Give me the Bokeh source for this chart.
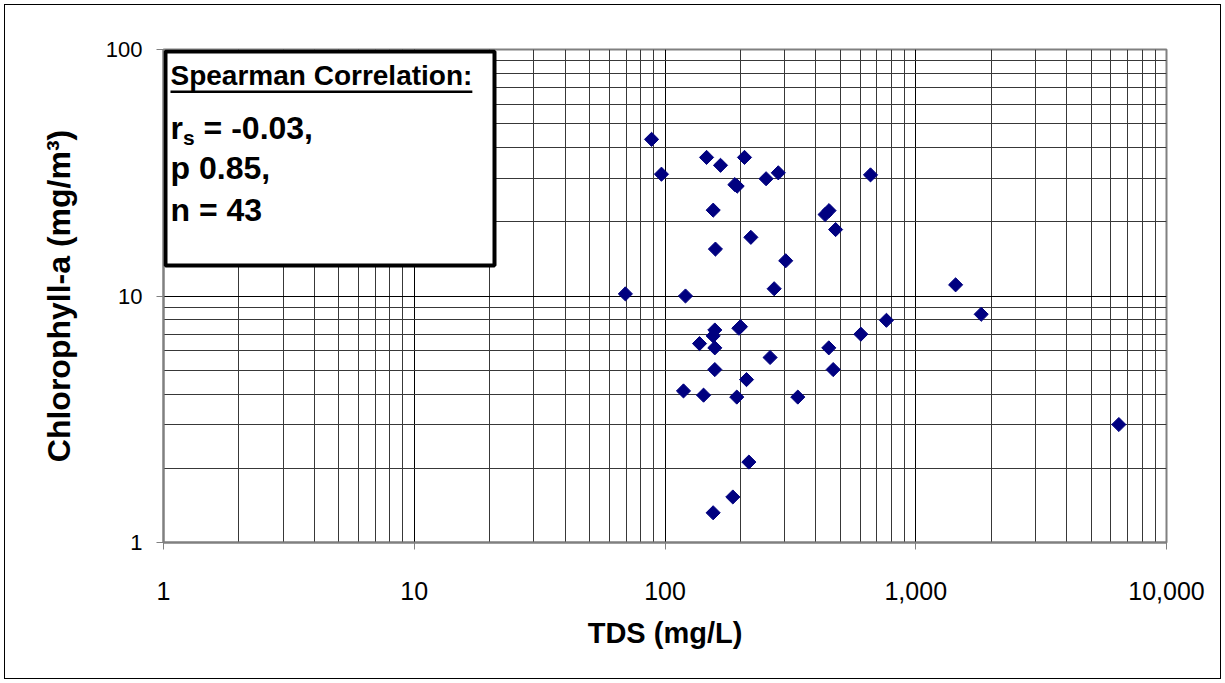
import math
from bokeh.plotting import figure
from bokeh.models import FixedTicker, NumeralTickFormatter, Label, BoxAnnotation
from bokeh.embed import file_html
from bokeh.resources import INLINE

# ---- data ----
tds = [69.5, 88.4, 96.8, 120.7, 146.5, 166.5, 207.5, 155.7, 158.9, 190, 194,
       253, 283, 220, 303, 272.5, 435, 451, 479, 660, 764, 604,
       158, 155.6, 137.3, 158, 200, 197, 262.5, 158, 211.4, 118.5, 142.5,
       193.3, 338.5, 450, 468.5, 216, 186.4, 155.6, 1442, 1824, 6456]
chla = [10.2, 43.2, 31.2, 10.0, 36.5, 33.9, 36.5, 22.3, 15.5, 28.3, 27.9,
        29.9, 31.6, 17.3, 13.9, 10.7, 21.4, 22.2, 18.6, 31.0, 7.97, 7.0,
        7.28, 6.89, 6.41, 6.16, 7.51, 7.40, 5.63, 5.03, 4.58, 4.12, 3.96,
        3.89, 3.89, 6.16, 5.03, 2.12, 1.53, 1.32, 11.1, 8.43, 3.01]

x_major = [1, 10, 100, 1000, 10000]
y_major = [1, 10, 100]
x_title = "TDS (mg/L)"
y_title = "Chlorophyll-a (mg/m\u00b3)"
stats_title = "Spearman Correlation:"
stats_lines = ["p 0.85,", "n = 43"]

FONT = "Liberation Sans"
W, H = 1225, 683
FL, FR, FT, FB = 163, 1166, 49, 542   # frame edges in pixels

def minors(majors):
    out = []
    for m in majors[:-1]:
        out += [m * k for k in range(2, 10)]
    return out

p = figure(width=W, height=H, x_axis_type="log", y_axis_type="log",
           x_range=(1, 10000), y_range=(1, 100),
           output_backend="svg", toolbar_location=None,
           min_border_left=FL, min_border_right=W - FR,
           min_border_top=FT, min_border_bottom=H - FB,
           styles={"outline": "1px solid black", "outline-offset": "-5px",
                   "background-color": "white"})
p.background_fill_color = "white"
p.border_fill_color = "white"
p.border_fill_alpha = 0.0
p.outline_line_color = "#808080"
p.outline_line_width = 2

# helpers: pixel position -> data coordinate (for annotation placement)
def dx(px):
    return 10 ** ((px - FL) / ((FR - FL) / 4.0))

def dy(py):
    return 10 ** ((FB - py) / ((FB - FT) / 2.0))

for ax, majors, fs in ((p.xaxis, x_major, "25px"), (p.yaxis, y_major, "22px")):
    ax.ticker = FixedTicker(ticks=majors, minor_ticks=minors(majors))
    ax.formatter = NumeralTickFormatter(format="0,0")
    ax.major_label_text_font = FONT
    ax.major_label_text_font_size = fs
    ax.major_label_text_color = "black"
    ax.axis_line_color = "#808080"
    ax.axis_line_width = 2
    ax.major_tick_line_color = "#808080"
    ax.major_tick_out = 7
    ax.major_tick_in = 0
    ax.minor_tick_out = 0
    ax.minor_tick_in = 0
    ax.axis_label_text_font = FONT
    ax.axis_label_text_font_style = "bold"
    ax.axis_label_text_color = "black"

p.xaxis.major_label_standoff = 32
p.yaxis.major_label_standoff = 14
p.xaxis.axis_label = x_title
p.xaxis.axis_label_text_font_size = "29px"
p.xaxis.axis_label_standoff = 14
p.yaxis.axis_label = y_title
p.yaxis.axis_label_text_font_size = "32px"
p.yaxis.axis_label_standoff = 26

for g in (p.xgrid, p.ygrid):
    g.grid_line_color = "black"
    g.grid_line_width = 1
    g.minor_grid_line_color = "#383838"
    g.minor_grid_line_width = 1

p.scatter(tds, chla, marker="square", size=10, angle=math.pi / 4,
          fill_color="#000080", line_color="#000080")

# ---- statistics box ----
p.add_layout(BoxAnnotation(left=dx(165), right=dx(494), top=dy(51), bottom=dy(265),
                           fill_color="white", fill_alpha=1.0,
                           line_color="black", line_alpha=1.0, line_width=4))
TX = 170
title_fs = 28
title_w = 10.78 * title_fs
p.add_layout(Label(x=dx(TX), y=dy(75), text=stats_title, text_font=FONT,
                   text_font_style="bold", text_font_size=f"{title_fs}px",
                   text_color="black", text_baseline="alphabetic"))
p.add_layout(BoxAnnotation(left=dx(TX), right=dx(TX + title_w), top=dy(90), bottom=dy(92.5),
                           fill_color="black", fill_alpha=1.0, line_alpha=0))

sfs = 32
p.add_layout(Label(x=dx(TX), y=dy(127), text="r", text_font=FONT,
                   text_font_style="bold", text_font_size=f"{sfs}px",
                   text_color="black", text_baseline="alphabetic"))
p.add_layout(Label(x=dx(TX + 12.5), y=dy(137), text="s", text_font=FONT,
                   text_font_style="bold", text_font_size="21px",
                   text_color="black", text_baseline="alphabetic"))
p.add_layout(Label(x=dx(TX + 12.5 + 11.7 + 8.9), y=dy(127), text="= -0.03,", text_font=FONT,
                   text_font_style="bold", text_font_size=f"{sfs}px",
                   text_color="black", text_baseline="alphabetic"))
for txt, base in zip(stats_lines, (167, 209)):
    p.add_layout(Label(x=dx(TX), y=dy(base), text=txt, text_font=FONT,
                       text_font_style="bold", text_font_size=f"{sfs}px",
                       text_color="black", text_baseline="alphabetic"))

open("out.html", "w").write(file_html(p, INLINE))
